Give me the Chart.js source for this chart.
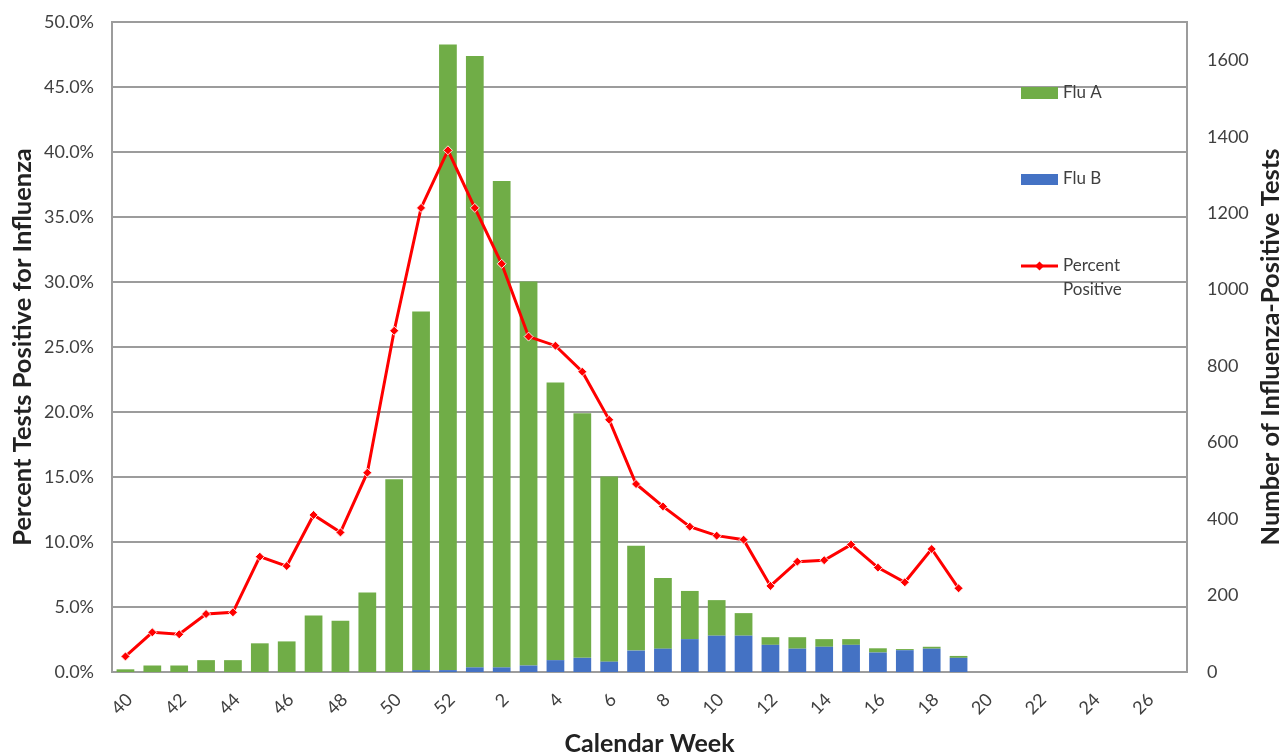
<!DOCTYPE html>
<html>
<head>
<meta charset="utf-8">
<title>Influenza Positive Tests by Calendar Week</title>
<script src="https://cdn.jsdelivr.net/npm/chart.js"></script>
<style>
  html, body { margin: 0; padding: 0; background: #fff; }
  #box { width: 1283px; height: 752px; }
</style>
</head>
<body>
<div id="box"><canvas id="graficoFlu"></canvas></div>
<script>
// DADOS
var semanas = ['40','41','42','43','44','45','46','47','48','49','50','51','52',
               '1','2','3','4','5','6','7','8','9','10','11','12','13','14','15','16','17','18','19',
               '20','21','22','23','24','25','26','27'];

var fluA = [7, 17, 17, 31, 31, 75, 80, 148, 134, 208, 504, 938, 1636,
            1599, 1272, 1004, 726, 640, 484, 274, 185, 126, 93, 59, 20, 30, 20, 15, 11, 3, 5, 5];

var fluB = [0, 0, 0, 0, 0, 0, 0, 0, 0, 0, 0, 5, 5,
            12, 12, 17, 31, 37, 27, 56, 61, 86, 95, 95, 71, 61, 66, 71, 51, 57, 61, 37];

var percentPositive = [1.2, 3.05, 2.9, 4.46, 4.59, 8.87, 8.15, 12.08, 10.74, 15.33, 26.25, 35.7, 40.13,
                       35.7, 31.4, 25.8, 25.1, 23.1, 19.4, 14.46, 12.74, 11.18, 10.49, 10.18, 6.62, 8.49, 8.6, 9.8, 8.03, 6.9, 9.46, 6.44];

var corA = '#70AD47';
var corB = '#4472C4';
var corLinha = '#FF0000';
var corGrade = '#9c9c9c';
var corTexto = '#404040';

// legenda desenhada dentro da area do grafico, como no original
var legendaFlu = {
    id: 'legendaFlu',
    afterDraw: function (chart) {
        var ctx = chart.ctx;
        var a = chart.chartArea;
        var x = a.right - 166;
        var tx = a.right - 124;
        ctx.save();
        ctx.font = '17px Lato';
        ctx.textBaseline = 'middle';
        ctx.textAlign = 'left';

        ctx.fillStyle = corA;
        ctx.fillRect(x, a.top + 65, 37, 12);
        ctx.fillStyle = corTexto;
        ctx.fillText('Flu A', tx, a.top + 71);

        ctx.fillStyle = corB;
        ctx.fillRect(x, a.top + 152, 37, 11);
        ctx.fillStyle = corTexto;
        ctx.fillText('Flu B', tx, a.top + 157);

        var ly = a.top + 244;
        ctx.strokeStyle = corLinha;
        ctx.lineWidth = 3;
        ctx.beginPath();
        ctx.moveTo(x, ly);
        ctx.lineTo(x + 37, ly);
        ctx.stroke();
        ctx.fillStyle = corLinha;
        ctx.beginPath();
        ctx.moveTo(x + 18.5, ly - 4.5);
        ctx.lineTo(x + 23, ly);
        ctx.lineTo(x + 18.5, ly + 4.5);
        ctx.lineTo(x + 14, ly);
        ctx.closePath();
        ctx.fill();
        ctx.fillStyle = corTexto;
        ctx.fillText('Percent', tx, ly);
        ctx.fillText('Positive', tx, ly + 24);

        // titulo do eixo direito, lido de baixo para cima
        ctx.translate(chart.width - 12, (a.top + a.bottom) / 2);
        ctx.rotate(-Math.PI / 2);
        ctx.font = 'bold 25.5px Lato';
        ctx.fillStyle = '#222';
        ctx.textAlign = 'center';
        ctx.fillText('Number of Influenza-Positive Tests', 0, 0);
        ctx.restore();
    }
};

// tira o espaco extra que o chart.js reserva acima/abaixo dos eixos verticais
function semPadding(s, largura) {
    s.width = largura;
    s.paddingTop = 0;
    s.paddingBottom = 0;
}

var ctxFlu = document.getElementById('graficoFlu').getContext('2d');

var dadosFlu = {
    labels: semanas,
    datasets: [
        {
            type: 'line',
            label: 'Percent Positive',
            data: percentPositive,
            yAxisID: 'y',
            borderColor: corLinha,
            backgroundColor: corLinha,
            borderWidth: 3,
            tension: 0,
            pointStyle: 'rectRot',
            pointRadius: 4.5,
            pointBackgroundColor: corLinha,
            pointBorderColor: 'rgba(255,255,255,0.85)',
            pointBorderWidth: 1,
            order: 0
        },
        {
            type: 'bar',
            label: 'Flu B',
            data: fluB,
            yAxisID: 'y2',
            backgroundColor: corB,
            barPercentage: 0.66,
            categoryPercentage: 1,
            order: 1
        },
        {
            type: 'bar',
            label: 'Flu A',
            data: fluA,
            yAxisID: 'y2',
            backgroundColor: corA,
            barPercentage: 0.66,
            categoryPercentage: 1,
            order: 2
        }
    ]
};

var graficoFlu = new Chart(ctxFlu, {
    type: 'bar',
    data: dadosFlu,
    plugins: [legendaFlu],
    options: {
        responsive: true,
        maintainAspectRatio: false,
        animation: false,
        layout: { padding: { top: 22, left: 0, right: 0, bottom: 0 } },
        plugins: {
            legend: { display: false },
            tooltip: { enabled: false }
        },
        scales: {
            x: {
                stacked: true,
                afterFit: function (s) { s.height = 80; },
                grid: { display: false, drawTicks: false },
                border: { display: true, color: corGrade, width: 2 },
                ticks: {
                    autoSkip: false,
                    minRotation: 45,
                    maxRotation: 45,
                    padding: 17,
                    labelOffset: 4,
                    color: corTexto,
                    font: { family: 'Lato', size: 18 },
                    callback: function (v, i) { return i % 2 === 0 ? semanas[i] : ''; }
                },
                title: {
                    display: true,
                    text: 'Calendar Week',
                    color: '#222',
                    font: { family: 'Lato', size: 25, weight: 'bold', lineHeight: 1 },
                    padding: { top: 0, bottom: -4 }
                }
            },
            y: {
                position: 'left',
                min: 0,
                max: 50,
                afterFit: function (s) { semPadding(s, 112); },
                grid: { color: corGrade, lineWidth: 2, drawTicks: false },
                border: { display: true, color: corGrade, width: 2 },
                ticks: {
                    stepSize: 5,
                    padding: 18,
                    color: corTexto,
                    font: { family: 'Lato', size: 18 },
                    callback: function (v) { return v.toFixed(1) + '%'; }
                },
                title: {
                    display: true,
                    text: 'Percent Tests Positive for Influenza',
                    color: '#222',
                    font: { family: 'Lato', size: 25.5, weight: 'bold', lineHeight: 1.2 },
                    padding: { top: 7, bottom: 0 }
                }
            },
            y2: {
                position: 'right',
                stacked: true,
                min: 0,
                max: 1700,
                afterFit: function (s) { semPadding(s, 96); },
                grid: { display: false, drawTicks: false },
                border: { display: true, color: corGrade, width: 2 },
                ticks: {
                    stepSize: 200,
                    padding: 20,
                    color: corTexto,
                    font: { family: 'Lato', size: 18 },
                    callback: function (v) { return v % 200 === 0 ? v : ''; }
                }
            }
        }
    }
});
</script>
</body>
</html>
